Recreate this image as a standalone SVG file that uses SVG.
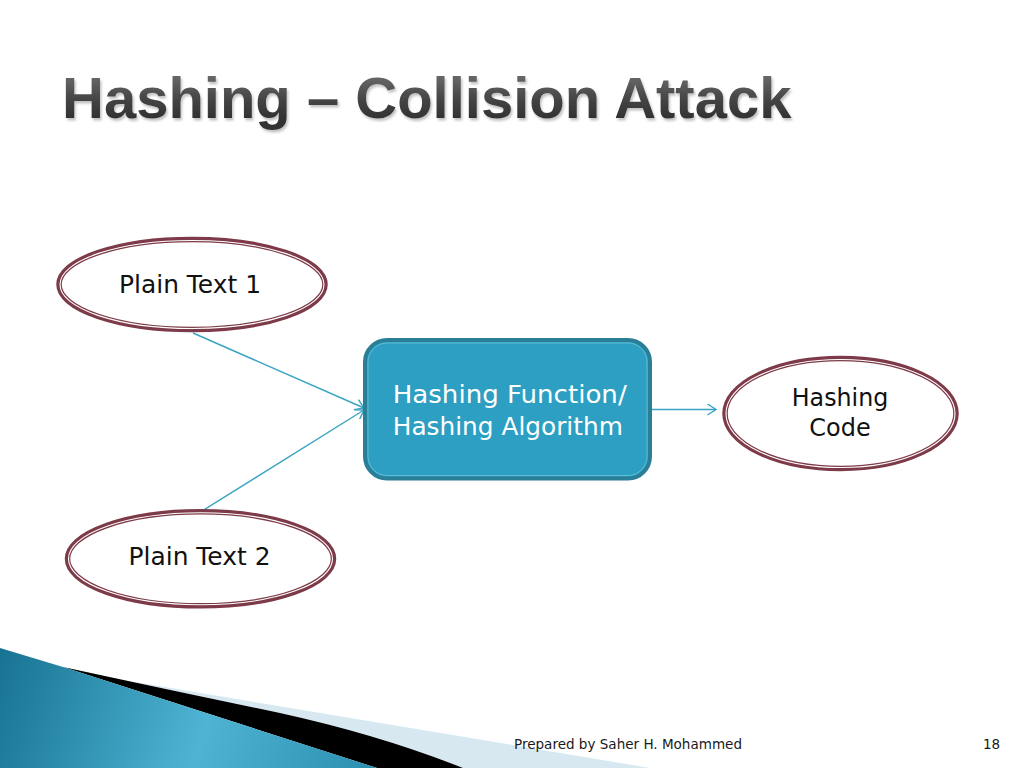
<svg xmlns="http://www.w3.org/2000/svg" width="1024" height="768" viewBox="0 0 1024 768">
<defs>
<style>
.ell{fill:#ffffff;stroke:#7d3a48;stroke-width:5.5}
.ellin{fill:none;stroke:#ffffff;stroke-width:1.1}
.lbl{font-family:"DejaVu Sans",Verdana,sans-serif;font-size:24.5px;fill:#111111;text-anchor:middle}
.wlbl{font-family:"DejaVu Sans",Verdana,sans-serif;font-size:25px;fill:#ffffff;text-anchor:middle}
.conn{stroke:#3aa3c2;stroke-width:1.4;fill:none}
.foot{font-family:"DejaVu Sans",Verdana,sans-serif;font-size:13.5px;fill:#1a1a1a}
</style>
<marker id="arr" viewBox="-10 -6 12 12" refX="0" refY="0" markerWidth="12" markerHeight="12" markerUnits="userSpaceOnUse" orient="auto">
<path d="M-8.5,-5.5 L0,0 L-8.5,5.5" fill="none" stroke="#3aa3c2" stroke-width="1.4"/>
</marker>
<linearGradient id="blueG" x1="0" y1="650" x2="380" y2="768" gradientUnits="userSpaceOnUse">
<stop offset="0" stop-color="#177391"/>
<stop offset="0.55" stop-color="#4fb4d4"/>
<stop offset="1" stop-color="#2a8eaf"/>
</linearGradient>
<linearGradient id="titleG" x1="0" y1="78" x2="0" y2="120" gradientUnits="userSpaceOnUse">
<stop offset="0" stop-color="#666666"/>
<stop offset="0.5" stop-color="#454545"/>
<stop offset="1" stop-color="#303030"/>
</linearGradient>
<filter id="shadow" x="-5%" y="-20%" width="110%" height="150%">
<feDropShadow dx="1.5" dy="2.5" stdDeviation="1" flood-color="#999999" flood-opacity="0.6"/>
</filter>
</defs>
<rect x="0" y="0" width="1024" height="768" fill="#ffffff"/>

<!-- bottom-left swoosh -->
<path d="M93,675 L650,768 L463,768 Q380,735 280,713 Q160,688 63,667 Z" fill="#d7e8f1"/>
<path d="M63,667 Q160,688 280,713 Q380,735 463,768 L377,768 Z" fill="#000000"/>
<path d="M0,648 L63,667 L377,768 L0,768 Z" fill="url(#blueG)"/>

<!-- title -->
<text x="62" y="118" font-family="'Liberation Sans',Arial,sans-serif" font-weight="bold" font-size="58" fill="url(#titleG)" filter="url(#shadow)">Hashing – Collision Attack</text>

<g id="connectors">
<line class="conn" x1="193" y1="333" x2="364" y2="408" marker-end="url(#arr)"/>
<line class="conn" x1="202" y1="511" x2="364" y2="410" marker-end="url(#arr)"/>
<line class="conn" x1="652" y1="409.5" x2="716" y2="409.5" marker-end="url(#arr)"/>
</g>

<g id="plain1">
<ellipse class="ell" cx="192" cy="284.5" rx="133" ry="45"/>
<ellipse class="ellin" cx="192" cy="284.5" rx="132" ry="44"/>
<text class="lbl" x="190" y="293" textLength="142" lengthAdjust="spacingAndGlyphs">Plain Text 1</text>
</g>

<g id="plain2">
<ellipse class="ell" cx="200.5" cy="558.8" rx="133" ry="47"/>
<ellipse class="ellin" cx="200.5" cy="558.8" rx="132" ry="46"/>
<text class="lbl" x="199.5" y="565" textLength="142" lengthAdjust="spacingAndGlyphs">Plain Text 2</text>
</g>

<g id="hashfunc">
<rect x="365" y="340" width="285" height="138.5" rx="22" fill="#2c9fc2" stroke="#2a7f97" stroke-width="4"/>
<rect x="368" y="343" width="279" height="132.5" rx="19" fill="none" stroke="#68bfd6" stroke-width="0.9"/>
<text class="wlbl" x="509.7" y="402.5" textLength="234" lengthAdjust="spacingAndGlyphs">Hashing Function/</text>
<text class="wlbl" x="507.8" y="434.5" textLength="230" lengthAdjust="spacingAndGlyphs">Hashing Algorithm</text>
</g>

<g id="hashcode">
<ellipse class="ell" cx="840.5" cy="413.5" rx="115.5" ry="55"/>
<ellipse class="ellin" cx="840.5" cy="413.5" rx="114.5" ry="54"/>
<text class="lbl" x="840" y="405.5" textLength="96.5" lengthAdjust="spacingAndGlyphs">Hashing</text>
<text class="lbl" x="840" y="436" textLength="61.3" lengthAdjust="spacingAndGlyphs">Code</text>
</g>

<text class="foot" x="514" y="749" textLength="228" lengthAdjust="spacingAndGlyphs">Prepared by Saher H. Mohammed</text>
<text class="foot" x="983" y="749">18</text>
</svg>
